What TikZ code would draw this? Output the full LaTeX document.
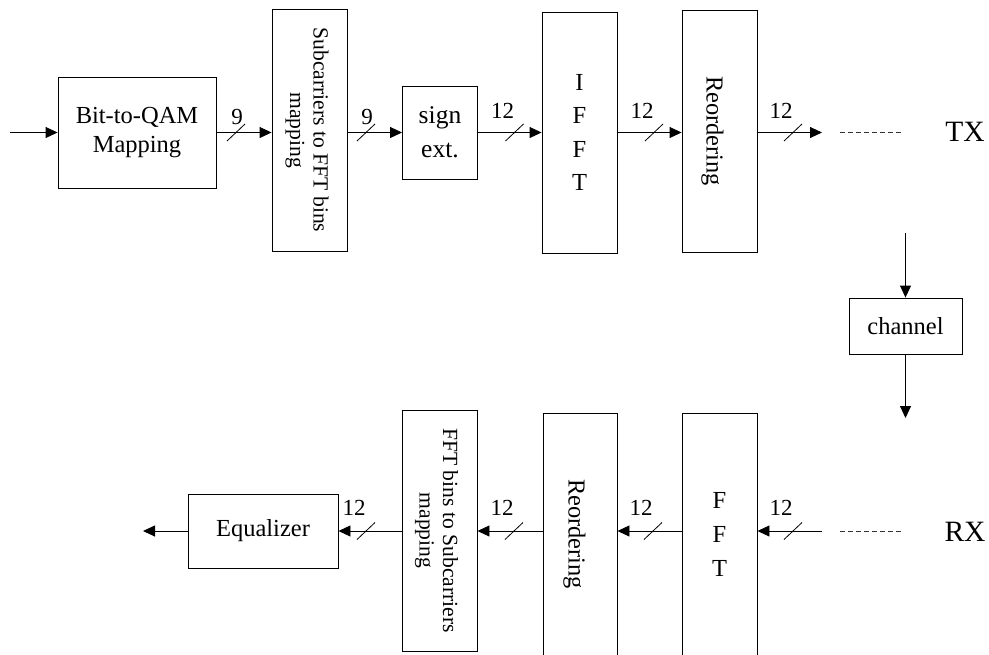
\documentclass[tikz,border=0pt]{standalone}
\usepackage{fontspec}
\setmainfont{Liberation Serif}
\usetikzlibrary{arrows.meta,calc}
\begin{document}
\begin{tikzpicture}[x=1pt,y=-1pt,
  blk/.style={draw, line width=0.9pt, inner sep=0pt, align=center},
  arr/.style={-{Triangle[length=12pt,width=11pt]}, line width=0.9pt},
  txt/.style={font=\fontsize{24.5}{29}\selectfont},
  rottxt/.style={rotate=-90, align=center, inner sep=0pt},
  numlbl/.style={font=\fontsize{23}{26}\selectfont, anchor=base, inner sep=0pt},
  busmark/.style={line width=0.8pt},
  dsh/.style={line width=0.8pt, dash pattern=on 5pt off 3pt, black!80},
  bigtxt/.style={font=\fontsize{29.5}{34}\selectfont}]
\clip (0,0) rectangle (989,654);
% ---------- TX chain ----------
\node[blk, txt, minimum width=158pt, minimum height=111pt] (bq) at (137,132.5) {Bit-to-QAM\\Mapping};
\node[blk, minimum width=75pt, minimum height=242pt] (sub) at (309.5,130) {};
\node[rottxt, font=\fontsize{21.6}{23.5}\selectfont] (subt) at (307,130) {Subcarriers to FFT bins\\mapping};
\node[blk, font=\fontsize{25.5}{34}\selectfont, minimum width=75pt, minimum height=93pt] (sx) at (440,132.5) {sign\\ext.};
\node[blk, font=\fontsize{24.5}{33.5}\selectfont, minimum width=75pt, minimum height=241pt] (ifft) at (579.5,132.5) {I\\F\\F\\T};
\node[blk, minimum width=75pt, minimum height=242pt] (reo1) at (719.5,131) {};
\node[rottxt, font=\fontsize{24.4}{28}\selectfont] (reo1t) at (712.5,131) {Reordering};
\node[bigtxt] (tx) at (965,132) {TX};
\coordinate (in) at (10,132.5);
\coordinate (txout) at (822,132.5);
\coordinate (td1) at (840,132.5);
\coordinate (td2) at (902,132.5);
\draw[arr] (in) -- (bq.west);
\draw[arr] (bq.east) -- (sub.west |- bq.east);
\draw[arr] (sub.east |- bq.east) -- (sx.west);
\draw[arr] (sx.east) -- (ifft.west);
\draw[arr] (ifft.east) -- (reo1.west |- ifft.east);
\draw[arr] (reo1.east |- ifft.east) -- (txout);
\draw[dsh] (td1) -- (td2);
% bus marks TX
\foreach \x/\n/\dx/\by in {236/9/1/124, 366/9/1/124, 514.5/12/-12/118.5, 654/12/-12/118.5, 793/12/-12/118.5}{
  \draw[busmark] (\x-9,141) -- (\x+9,124);
  \node[numlbl] at (\x+\dx,\by) {\n};
}
% ---------- channel ----------
\node[blk, txt, minimum width=113pt, minimum height=56pt] (ch) at (905.5,326) {channel};
\coordinate (chin) at (905.5,233);
\coordinate (chout) at (905.5,418);
\draw[arr] (chin) -- (ch.north);
\draw[arr] (ch.south) -- (chout);
% ---------- RX chain ----------
\node[blk, font=\fontsize{24.5}{34}\selectfont, minimum width=75pt, minimum height=242pt] (fft) at (719.5,534) {F\\F\\T};
\node[blk, minimum width=74pt, minimum height=242pt] (reo2) at (580,534) {};
\node[rottxt, font=\fontsize{24.4}{28}\selectfont] (reo2t) at (574.5,534) {Reordering};
\node[blk, minimum width=75pt, minimum height=241pt] (fbs) at (439.5,530.5) {};
\node[rottxt, font=\fontsize{21.6}{23.5}\selectfont] (fbst) at (436.5,530.5) {FFT bins to Subcarriers\\mapping};
\node[blk, txt, minimum width=150pt, minimum height=74pt] (eq) at (263,531) {Equalizer};
\node[bigtxt] (rx) at (965,532) {RX};
\coordinate (rxin) at (822,531);
\coordinate (rxout) at (143,531);
\coordinate (rd1) at (840,531);
\coordinate (rd2) at (902,531);
\draw[dsh] (rd1) -- (rd2);
\draw[arr] (rxin) -- (fft.east |- rxin);
\draw[arr] (fft.west |- rxin) -- (reo2.east |- rxin);
\draw[arr] (reo2.west |- rxin) -- (fbs.east |- rxin);
\draw[arr] (fbs.west |- rxin) -- (eq.east);
\draw[arr] (eq.west) -- (rxout);
% bus marks RX
\foreach \x in {793, 653, 514, 366}{
  \draw[busmark] (\x-9,539.5) -- (\x+9,522.5);
  \node[numlbl] at (\x-12,515) {12};
}
\end{tikzpicture}
\end{document}
